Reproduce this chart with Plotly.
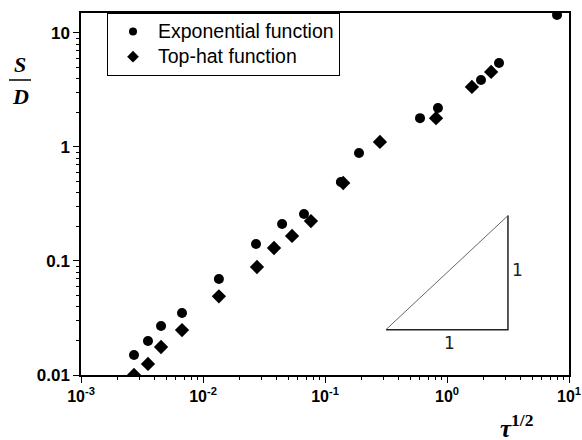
import plotly.graph_objects as go

# Exponential function (circles)
exp_x = [0.00272, 0.00354, 0.00453, 0.00673, 0.0135, 0.0272, 0.0445, 0.0673, 0.135, 0.190, 0.601, 0.843, 1.90, 2.67, 7.98]
exp_y = [0.015, 0.0199, 0.0269, 0.035, 0.0695, 0.141, 0.211, 0.258, 0.493, 0.885, 1.79, 2.20, 3.87, 5.46, 14.4]

# Top-hat function (diamonds)
top_x = [0.00272, 0.00354, 0.00453, 0.00673, 0.0135, 0.0277, 0.0382, 0.0537, 0.0767, 0.141, 0.282, 0.813, 1.60, 2.30]
top_y = [0.0100, 0.0125, 0.0176, 0.0248, 0.049, 0.0886, 0.130, 0.166, 0.224, 0.483, 1.107, 1.79, 3.36, 4.55]

# Slope triangle (one decade each way)
tri_x = [0.316, 3.16, 3.16]
tri_y = [0.025, 0.025, 0.25]

x_tickvals = [0.001, 0.01, 0.1, 1, 10]
x_ticktext = ["10<sup>-3</sup>", "10<sup>-2</sup>", "10<sup>-1</sup>", "10<sup>0</sup>", "10<sup>1</sup>"]
y_tickvals = [0.01, 0.1, 1, 10]
y_ticktext = ["0.01", "0.1", "1", "10"]
minor_digits = [2, 3, 4, 5, 6, 7, 8, 9]
x_minor = [d * 10.0 ** e for e in range(-3, 1) for d in minor_digits]
y_minor = [d * 10.0 ** e for e in range(-2, 2) for d in minor_digits]

legend_names = ["Exponential function", "Top-hat function"]

fig = go.Figure()
fig.add_trace(go.Scatter(x=exp_x, y=exp_y, mode="markers", showlegend=False,
                         marker=dict(symbol="circle", size=10, color="black")))
fig.add_trace(go.Scatter(x=top_x, y=top_y, mode="markers", showlegend=False,
                         marker=dict(symbol="diamond", size=11, color="black")))
# legend entries (smaller symbols as in the reference)
fig.add_trace(go.Scatter(x=[None], y=[None], mode="markers",
                         name='<span style="font-size:19.5px">' + legend_names[0] + '</span>',
                         marker=dict(symbol="circle", size=8, color="black")))
fig.add_trace(go.Scatter(x=[None], y=[None], mode="markers",
                         name='<span style="font-size:19.5px">' + legend_names[1] + '</span>',
                         marker=dict(symbol="diamond", size=9, color="black")))
# triangle legs
fig.add_trace(go.Scatter(x=tri_x, y=tri_y, mode="lines", showlegend=False, hoverinfo="skip",
                         line=dict(color="#222222", width=1.5)))
# hypotenuse
fig.add_trace(go.Scatter(x=[tri_x[0], tri_x[2]], y=[tri_y[0], tri_y[2]], mode="lines",
                         showlegend=False, hoverinfo="skip",
                         line=dict(color="#555555", width=0.9)))

axis_common = dict(
    type="log", showgrid=False, zeroline=False, automargin=False,
    showline=True, linecolor="black", linewidth=1.5, mirror=True,
    ticks="outside", ticklen=6, tickwidth=1.2, tickcolor="black",
)

fig.update_xaxes(range=[-3, 1], tickvals=x_tickvals, ticktext=x_ticktext,
                 tickfont=dict(family="Liberation Sans, Arial", size=16, color="black", weight="bold"),
                 minor=dict(ticks="outside", ticklen=3, tickwidth=1, tickcolor="black",
                            showgrid=False, tickvals=x_minor),
                 **axis_common)
fig.update_yaxes(range=[-2, 1.175], tickvals=y_tickvals, ticktext=y_ticktext,
                 tickfont=dict(family="Liberation Sans, Arial", size=17, color="black", weight="bold"),
                 minor=dict(ticks="outside", ticklen=3, tickwidth=1, tickcolor="black",
                            showgrid=False, tickvals=y_minor),
                 **axis_common)

W, H = 582, 440
L, R, T, B = 81, 13, 13, 65
pw = W - L - R
ph = H - T - B

def px(x):
    return (x - L) / pw

def py(y):
    return (H - y - B) / ph

fig.update_layout(
    width=W, height=H,
    margin=dict(l=L, r=R, t=T, b=B),
    plot_bgcolor="white", paper_bgcolor="white",
    showlegend=True,
    legend=dict(x=px(107), y=1.0, xanchor="left", yanchor="top",
                bordercolor="black", borderwidth=1, bgcolor="white",
                font=dict(family="Liberation Sans, Arial", size=17, color="black"),
                tracegroupgap=0, itemwidth=40),
)

# slope labels
fig.add_annotation(x=0.02, y=-1.602, xref="x", yref="y", yanchor="top", yshift=-1,
                   text="1", showarrow=False,
                   font=dict(family="DejaVu Sans", size=17, color="#222222"))
fig.add_annotation(x=0.5, y=-1.08, xref="x", yref="y", xanchor="left", xshift=2,
                   text="1", showarrow=False,
                   font=dict(family="DejaVu Sans", size=17, color="#222222"))

serif = dict(family="Liberation Serif, Times New Roman", size=22, color="black")
# y-axis title as fraction S/D
fig.add_annotation(x=px(20), y=py(65), xref="paper", yref="paper", text="<b><i>S</i></b>",
                   xanchor="center", yanchor="middle", showarrow=False, font=serif)
fig.add_annotation(x=px(20), y=py(97), xref="paper", yref="paper", text="<b><i>D</i></b>",
                   xanchor="center", yanchor="middle", showarrow=False, font=serif)
fig.add_shape(type="line", xref="paper", yref="paper",
              x0=px(9), x1=px(31), y0=py(80), y1=py(80),
              line=dict(color="black", width=1.5))

# x-axis title tau^(1/2)
fig.add_annotation(x=px(516), y=py(426), xref="paper", yref="paper",
                   text="<b><i>τ</i></b><sup><b>1/2</b></sup>",
                   xanchor="center", yanchor="middle", showarrow=False,
                   font=dict(family="Liberation Serif, Times New Roman", size=25, color="black"))

fig.write_html("out.html", config={"displayModeBar": False},
               post_script="document.body.style.margin='0px';document.body.style.overflow='hidden';")
